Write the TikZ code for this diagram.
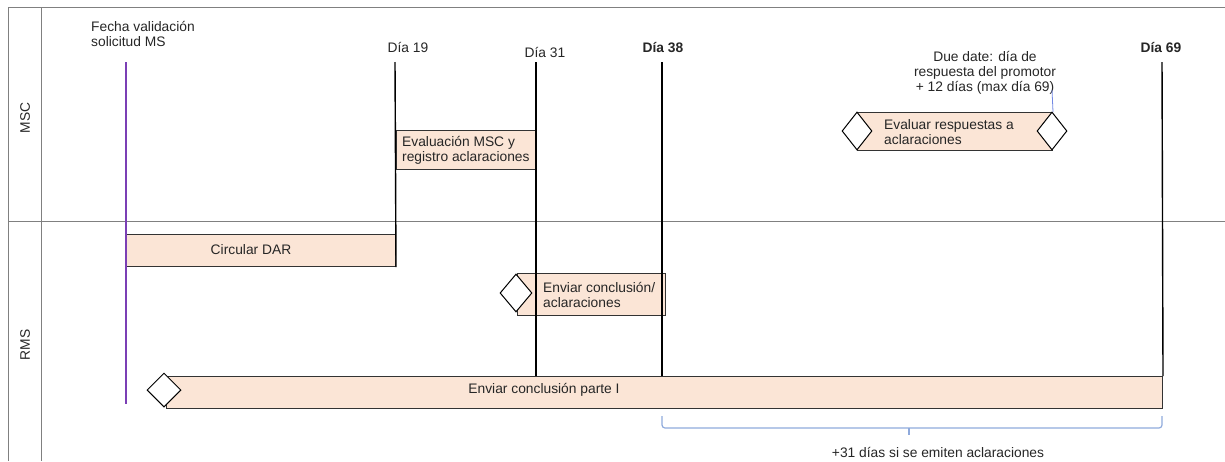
\documentclass[tikz,border=0pt]{standalone}
\usepackage{fontspec}
\setmainfont{Liberation Sans}
\usetikzlibrary{shapes.geometric}
\definecolor{peach}{HTML}{FBE5D6}
\definecolor{lanegray}{HTML}{808080}
\definecolor{purp}{HTML}{7B3FB5}
\definecolor{braceblue}{HTML}{8FAADC}
\definecolor{txt}{HTML}{262626}
\begin{document}
\begin{tikzpicture}[x=1pt,y=-1pt,font=\fontsize{13.8}{15}\selectfont,
  lane/.style={draw=lanegray,line width=1pt},
  task/.style={draw=black!80,fill=peach,line width=1pt,inner sep=0,anchor=north west},
  milestone/.style={draw=black,fill=white,diamond,line width=1pt,inner sep=0,minimum width=32pt,minimum height=38pt},
  dayline/.style={draw=black,line width=1.4pt},
  lbl/.style={inner sep=0,text=txt,align=left},
  daylbl/.style={inner sep=0,text=txt,anchor=base}]
\useasboundingbox (0,0) rectangle (1225,461);
% swimlane frame
\coordinate (tl) at (8,7);
\coordinate (tr) at (1225,7);
\coordinate (ml) at (8,221);
\coordinate (mr) at (1225,221);
\coordinate (bl) at (8,461);
\coordinate (hl) at (41,7);
\coordinate (hb) at (41,461);
\draw[lane] (tl) -- (tr);
\draw[lane] (ml) -- (mr);
\draw[lane] (tl) -- (bl);
\draw[lane] (hl) -- (hb);
\node[rotate=90,text=txt,inner sep=0] (msc) at (25,118) {MSC};
\node[rotate=90,text=txt,inner sep=0] (rms) at (25,345) {RMS};

% tasks
\node[task,minimum width=140pt,minimum height=39pt] (evalbox) at (396,130) {};
\node[lbl,anchor=west] (evaltxt) at (402,150) {Evaluación MSC y\\registro aclaraciones};
\node[task,minimum width=269pt,minimum height=32pt] (dar) at (126,234) {};
\node[lbl] (dartxt) at (251,250) {Circular DAR};
\node[task,minimum width=148pt,minimum height=42pt] (envbox) at (517,273) {};
\node[lbl,anchor=west] (envtxt) at (543,295) {Enviar conclusión/\\aclaraciones};
\node[task,minimum width=195pt,minimum height=38pt] (respbox) at (857,112) {};
\node[lbl,anchor=west] (resptxt) at (884,132) {Evaluar respuestas a\\aclaraciones};
\node[task,minimum width=996pt,minimum height=32pt] (partbox) at (166,376) {};
\node[lbl] (parttxt) at (544,390) {Enviar conclusión parte I};

% milestones
\node[milestone] (d1) at (516,293) {};
\node[milestone,minimum width=30pt] (d2) at (857,131) {};
\node[milestone,minimum width=30pt] (d3) at (1052,131) {};
\node[milestone,minimum height=34pt,minimum width=34pt] (d4) at (164,390) {};

% day lines
\coordinate (p0) at (126,62);
\coordinate (p0b) at (126,404);
\draw[draw=purp,line width=1.5pt] (p0) -- (p0b);
\coordinate (t19) at (395,62);
\coordinate (t31) at (536,62);
\coordinate (t38) at (662,62);
\coordinate (t69) at (1162,62);
\draw[dayline] (t19) -- (dar.south east);
\draw[dayline] (t31) -- (t31 |- partbox.north);
\draw[dayline] (t38) -- (t38 |- partbox.north);
\draw[dayline] (t69) -- (partbox.north east);

% labels
\node[lbl,anchor=north west] (fecha) at (91,21) {Fecha validación\\solicitud MS};
\node[daylbl] (l19) at (408,52) {Día 19};
\node[daylbl] (l31) at (545,57) {Día 31};
\node[daylbl,font=\fontsize{13.8}{15}\selectfont\bfseries] (l38) at (663,52) {Día 38};
\node[daylbl,font=\fontsize{13.8}{15}\selectfont\bfseries] (l69) at (1161,52) {Día 69};
\node[lbl,align=center] (due) at (985,73) {Due date: día de\\respuesta del promotor\\+ 12 días (max día 69)};
\coordinate (dueend) at (1052,90);
\draw[draw=braceblue!80!blue,line width=0.8pt] (dueend) -- (respbox.north east);

% brace
\coordinate (b1) at (662,416);
\coordinate (b2) at (1162,416);
\coordinate (btip) at (909,435);
\draw[draw=braceblue,line width=1.2pt,rounded corners=3pt] (b1) -- (662,428) -- (1162,428) -- (b2);
\draw[draw=braceblue,line width=1.2pt] (909,428) -- (btip);
\node[lbl] (bracetxt) at (938,452) {+31 días si se emiten aclaraciones};
\end{tikzpicture}
\end{document}
